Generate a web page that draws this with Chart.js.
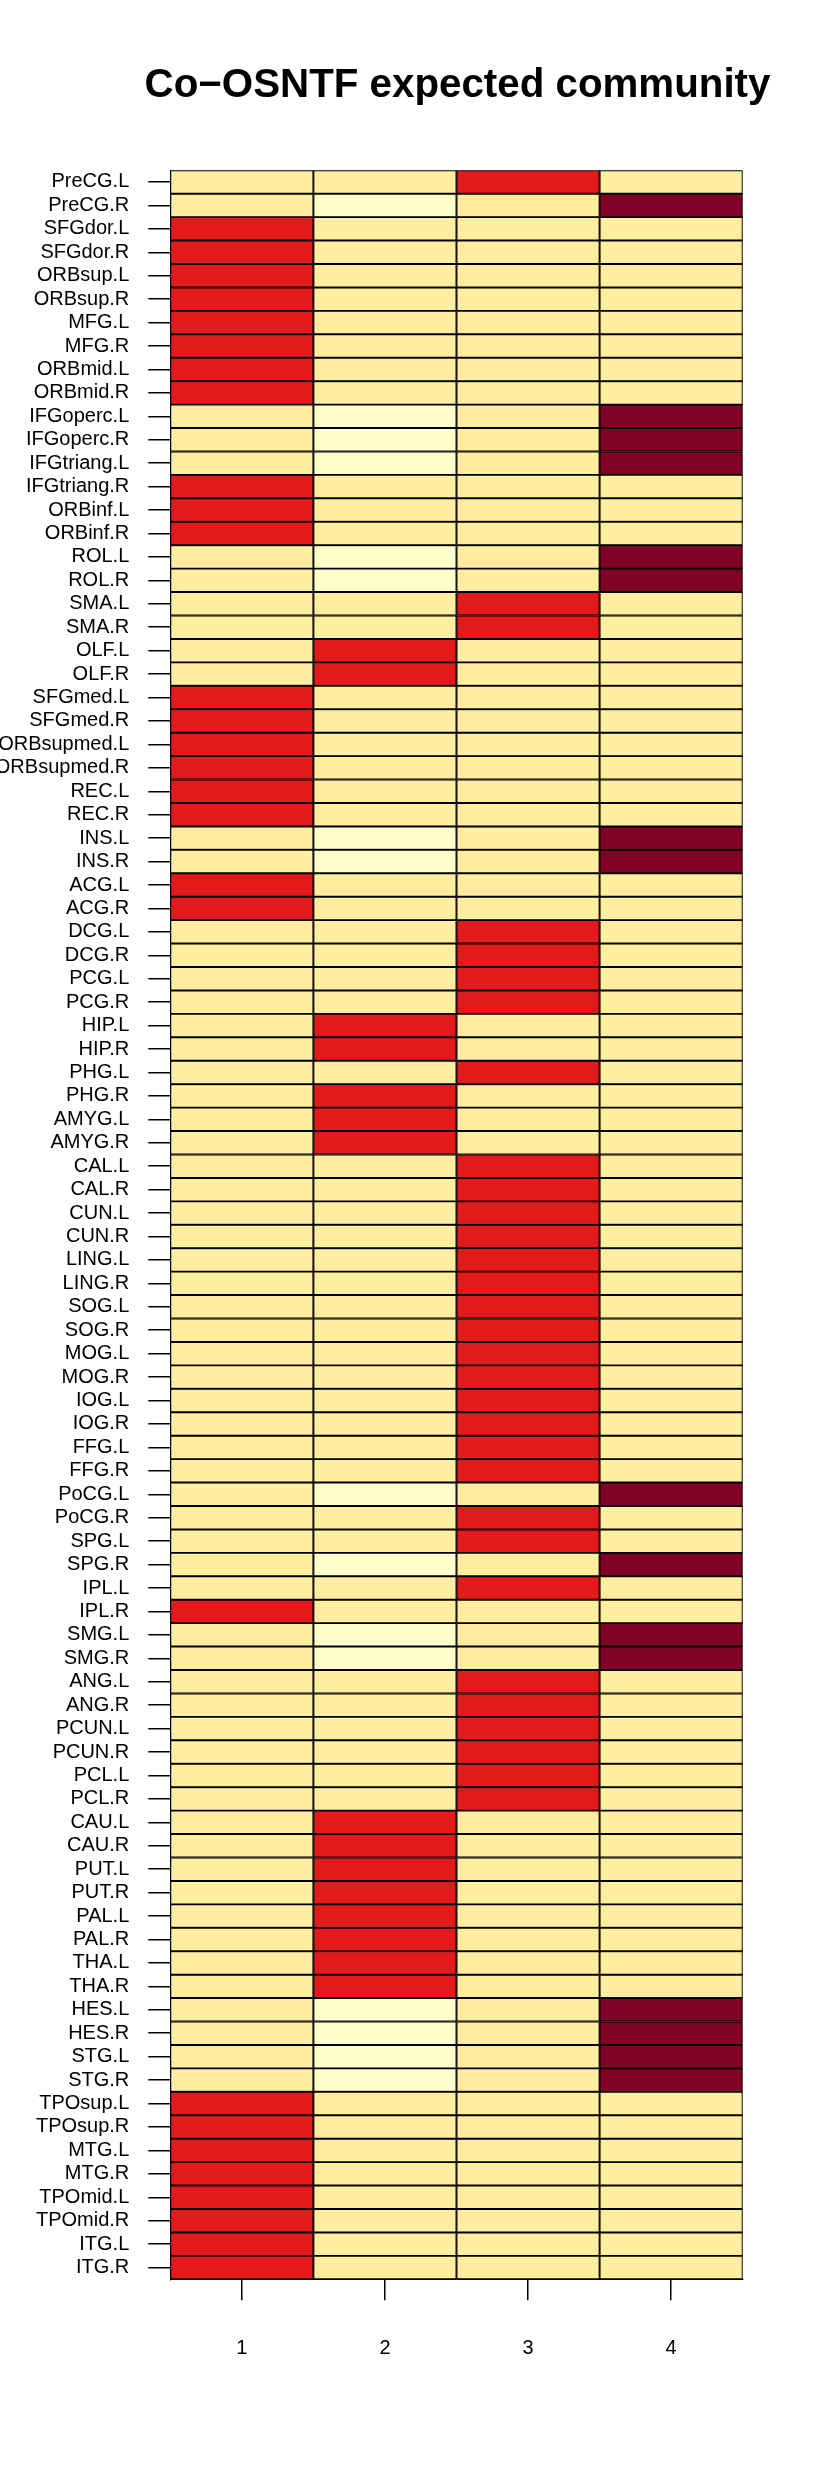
<!DOCTYPE html>
<html>
<head>
<meta charset="utf-8">
<script src="https://cdn.jsdelivr.net/npm/chart.js@4.4.1/dist/chart.umd.min.js"></script>
<style>
  html, body { margin: 0; padding: 0; background: #ffffff; }
  #wrap { width: 830px; height: 2491px; }
</style>
</head>
<body>
<div id="wrap"><canvas id="c" width="830" height="2491"></canvas></div>
<script>
// ---- data ----
const regions = [
  'PreCG.L','PreCG.R','SFGdor.L','SFGdor.R','ORBsup.L','ORBsup.R','MFG.L','MFG.R','ORBmid.L','ORBmid.R',
  'IFGoperc.L','IFGoperc.R','IFGtriang.L','IFGtriang.R','ORBinf.L','ORBinf.R','ROL.L','ROL.R','SMA.L','SMA.R',
  'OLF.L','OLF.R','SFGmed.L','SFGmed.R','ORBsupmed.L','ORBsupmed.R','REC.L','REC.R','INS.L','INS.R',
  'ACG.L','ACG.R','DCG.L','DCG.R','PCG.L','PCG.R','HIP.L','HIP.R','PHG.L','PHG.R',
  'AMYG.L','AMYG.R','CAL.L','CAL.R','CUN.L','CUN.R','LING.L','LING.R','SOG.L','SOG.R',
  'MOG.L','MOG.R','IOG.L','IOG.R','FFG.L','FFG.R','PoCG.L','PoCG.R','SPG.L','SPG.R',
  'IPL.L','IPL.R','SMG.L','SMG.R','ANG.L','ANG.R','PCUN.L','PCUN.R','PCL.L','PCL.R',
  'CAU.L','CAU.R','PUT.L','PUT.R','PAL.L','PAL.R','THA.L','THA.R','HES.L','HES.R',
  'STG.L','STG.R','TPOsup.L','TPOsup.R','MTG.L','MTG.R','TPOmid.L','TPOmid.R','ITG.L','ITG.R'
];
const communities = ['1','2','3','4'];
// cell levels (0 = lowest ... 8 = highest)
const comm1 = [
  1,1,6,6,6,6,6,6,6,6,
  1,1,1,6,6,6,1,1,1,1,
  1,1,6,6,6,6,6,6,1,1,
  6,6,1,1,1,1,1,1,1,1,
  1,1,1,1,1,1,1,1,1,1,
  1,1,1,1,1,1,1,1,1,1,
  1,6,1,1,1,1,1,1,1,1,
  1,1,1,1,1,1,1,1,1,1,
  1,1,6,6,6,6,6,6,6,6
];
const comm2 = [
  1,0,1,1,1,1,1,1,1,1,
  0,0,0,1,1,1,0,0,1,1,
  6,6,1,1,1,1,1,1,0,0,
  1,1,1,1,1,1,6,6,1,6,
  6,6,1,1,1,1,1,1,1,1,
  1,1,1,1,1,1,0,1,1,0,
  1,1,0,0,1,1,1,1,1,1,
  6,6,6,6,6,6,6,6,0,0,
  0,0,1,1,1,1,1,1,1,1
];
const comm3 = [
  6,1,1,1,1,1,1,1,1,1,
  1,1,1,1,1,1,1,1,6,6,
  1,1,1,1,1,1,1,1,1,1,
  1,1,6,6,6,6,1,1,6,1,
  1,1,6,6,6,6,6,6,6,6,
  6,6,6,6,6,6,1,6,6,1,
  6,1,1,1,6,6,6,6,6,6,
  1,1,1,1,1,1,1,1,1,1,
  1,1,1,1,1,1,1,1,1,1
];
const comm4 = [
  1,8,1,1,1,1,1,1,1,1,
  8,8,8,1,1,1,8,8,1,1,
  1,1,1,1,1,1,1,1,8,8,
  1,1,1,1,1,1,1,1,1,1,
  1,1,1,1,1,1,1,1,1,1,
  1,1,1,1,1,1,8,1,1,8,
  1,1,8,8,1,1,1,1,1,1,
  1,1,1,1,1,1,1,1,8,8,
  8,8,1,1,1,1,1,1,1,1
];
const levels = [comm1, comm2, comm3, comm4];

// ---- style ----
const palette = ['#FFFFCC','#FFEDA0','#FED976','#FEB24C','#FD8D3C','#FC4E2A','#E31A1C','#BD0026','#800026'];
const FONT = '"Liberation Sans", Arial, Helvetica, sans-serif';

const datasets = communities.map((c, j) => ({
  label: c,
  data: regions.map(() => [j + 0.5, j + 1.5]),
  backgroundColor: levels[j].map(v => palette[v]),
  borderColor: '#000000',
  borderWidth: 1.3,
  borderSkipped: false,
  grouped: false,
  barPercentage: 1,
  categoryPercentage: 1
}));

// widen the title box so the title is centred over the plot without being squeezed
const titleShift = {
  id: 'titleShift',
  afterLayout(chart) {
    const t = chart.titleBlock;
    if (t) { t.left = 85; t.right = 830; t.width = 745; }
  }
};

new Chart(document.getElementById('c'), {
  type: 'bar',
  data: { labels: regions, datasets },
  plugins: [titleShift],
  options: {
    responsive: false,
    animation: false,
    devicePixelRatio: 1,
    indexAxis: 'y',
    layout: { padding: { left: 0, right: 87.3, top: 0, bottom: 0 } },
    plugins: {
      legend: { display: false },
      tooltip: { enabled: false },
      title: {
        display: true,
        text: 'Co\u2212OSNTF expected community',
        color: '#000000',
        fullSize: false,
        font: { family: FONT, size: 40.3, weight: 'bold' },
        padding: { top: 61.5, bottom: 60.4 }
      }
    },
    scales: {
      x: {
        type: 'linear',
        position: 'bottom',
        min: 0.5,
        max: 4.5,
        afterBuildTicks: s => { s.ticks = communities.map((c, j) => ({ value: j + 1 })); },
        afterFit: s => { s.height = 2491 - 2279.3; },
        ticks: {
          color: '#000000',
          padding: 36,
          font: { family: FONT, size: 20 },
          callback: (v, i) => communities[i]
        },
        grid: { drawOnChartArea: false, drawTicks: true, tickLength: 21, color: '#000000', lineWidth: 1.5 },
        border: { display: true, color: '#000000', width: 1 }
      },
      y: {
        type: 'category',
        offset: true,
        afterFit: s => { s.width = 170.3; },
        ticks: {
          autoSkip: false,
          color: '#000000',
          padding: 19,
          font: { family: FONT, size: 20 }
        },
        grid: { offset: false, drawOnChartArea: false, drawTicks: true, tickLength: 22, color: '#000000', lineWidth: 1.5 },
        border: { display: true, color: '#000000', width: 1 }
      }
    }
  }
});
</script>
</body>
</html>
